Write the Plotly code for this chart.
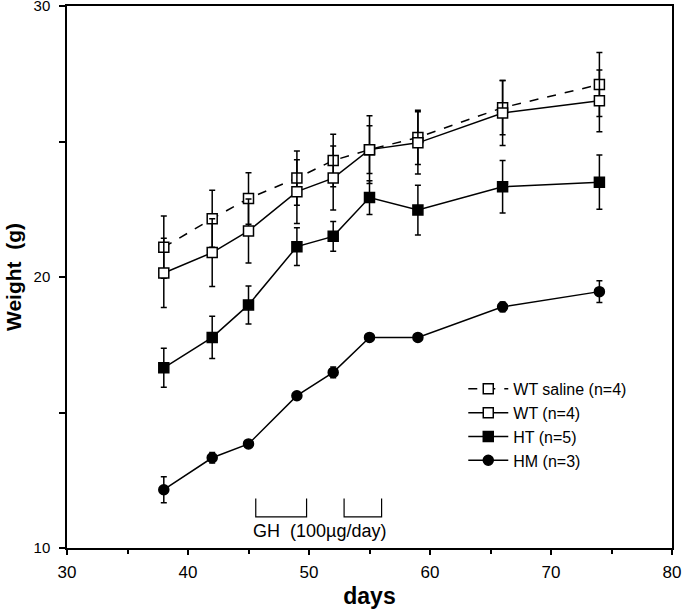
import plotly.graph_objects as go

days = [38, 42, 45, 49, 52, 55, 59, 66, 74]

wt_saline = [21.1, 22.15, 22.9, 23.65, 24.3, 24.7, 25.15, 26.25, 27.1]
wt_saline_err = [1.15, 1.05, 0.95, 1.0, 0.97, 0.88, 1.0, 1.0, 1.18]

wt = [20.15, 20.9, 21.7, 23.15, 23.65, 24.7, 24.95, 26.05, 26.5]
wt_err = [1.28, 1.25, 1.18, 1.18, 1.18, 1.25, 1.15, 1.2, 1.14]

ht = [16.65, 17.77, 18.97, 21.12, 21.5, 22.93, 22.47, 23.33, 23.5]
ht_err = [0.72, 0.78, 0.7, 0.7, 0.55, 0.62, 0.92, 0.97, 1.0]

hm = [12.15, 13.33, 13.84, 15.62, 16.48, 17.77, 17.77, 18.9, 19.46]
hm_err = [0.48, 0.19, 0.08, 0.05, 0.2, 0.08, 0.05, 0.18, 0.4]

series = [
    ("WT saline (n=4)", wt_saline, wt_saline_err, "dash", "square", "white"),
    ("WT (n=4)", wt, wt_err, "solid", "square", "white"),
    ("HT (n=5)", ht, ht_err, "solid", "square", "black"),
    ("HM (n=3)", hm, hm_err, "solid", "circle", "black"),
]

fig = go.Figure()
for name, vals, errs, dash, sym, fill in series:
    fig.add_trace(go.Scatter(
        x=days, y=vals, name=name, mode="lines+markers",
        line=dict(color="black", width=1.5, dash=dash),
        marker=dict(symbol=sym, size=10, color=fill,
                    line=dict(color="black", width=1.5)),
        error_y=dict(type="data", array=errs, visible=True,
                     color="black", thickness=1.5, width=3),
    ))

# GH injection period brackets
gh_periods = [(45.6, 49.8), (52.9, 56.0)]
for x0, x1 in gh_periods:
    fig.add_shape(type="path",
                  path=f"M {x0},11.83 L {x0},11.15 L {x1},11.15 L {x1},11.83",
                  line=dict(color="black", width=1.2), xref="x", yref="y")
fig.add_annotation(x=50.9, y=10.62, text="GH  (100µg/day)", showarrow=False,
                   font=dict(family="Liberation Sans, Arial", size=18, color="black"),
                   xref="x", yref="y")

fig.update_layout(
    width=685, height=615,
    margin=dict(l=67, r=13, t=6, b=67),
    plot_bgcolor="white", paper_bgcolor="white",
    font=dict(family="Liberation Sans, Arial", color="black"),
    showlegend=True,
    legend=dict(x=0.655, y=0.227, xanchor="left", yanchor="middle",
                font=dict(size=16, color="black"),
                bgcolor="rgba(0,0,0,0)", tracegroupgap=0, itemwidth=40),
    xaxis=dict(range=[30, 80], tickvals=[30, 40, 50, 60, 70, 80],
               ticks="outside", ticklen=5, tickwidth=1.5, tickcolor="black",
               minor=dict(dtick=5, ticks="outside", ticklen=4, tickwidth=1.5, tickcolor="black", showgrid=False),
               showline=True, linecolor="black", linewidth=1.5, mirror=True,
               showgrid=False, zeroline=False, automargin=False,
               ticklabeloverflow="allow", ticklabelstandoff=3,
               tickfont=dict(size=17),
               title=dict(text="<b>days</b>", font=dict(size=23), standoff=7)),
    yaxis=dict(range=[10, 30], tickvals=[10, 20, 30],
               ticks="outside", ticklen=6, tickwidth=1.5, tickcolor="black",
               minor=dict(dtick=5, ticks="outside", ticklen=6, tickwidth=1.5, tickcolor="black", showgrid=False),
               showline=True, linecolor="black", linewidth=1.5, mirror=True,
               showgrid=False, zeroline=False, automargin=False,
               ticklabeloverflow="allow", ticklabelstandoff=6,
               tickfont=dict(size=15),
               title=dict(text="<b>Weight  (g)</b>", font=dict(size=21), standoff=6)),
)

fig.write_html("out.html", config={"displayModeBar": False},
               post_script="document.body.style.margin='0';")
